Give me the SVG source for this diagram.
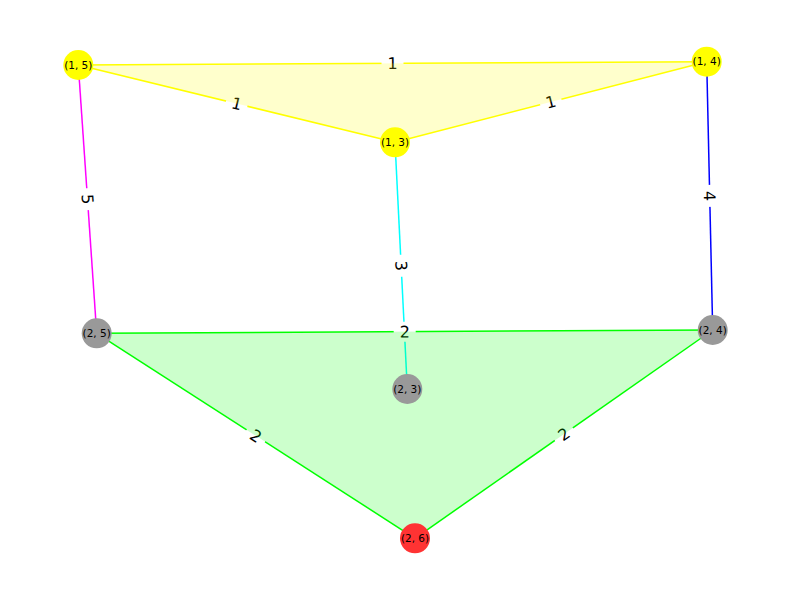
<svg xmlns="http://www.w3.org/2000/svg" width="792" height="599" viewBox="0 0 792 599">
<style>
.e{fill:none;stroke-width:1.5}
.n{stroke:none}
.nl{font-family:"DejaVu Sans",sans-serif;font-size:10.5px;text-anchor:middle;fill:#000}
.el{font-family:"DejaVu Sans",sans-serif;font-size:16px;text-anchor:middle;fill:#000}
.bx{fill:#fff;stroke:none}
</style>
<rect width="792" height="599" fill="#fff"/>
<g id="connectors">
<line class="e" x1="78.3" y1="65" x2="706.7" y2="61.7" stroke="#ffff00"/>
<line class="e" x1="78.3" y1="65" x2="395" y2="142.3" stroke="#ffff00"/>
<line class="e" x1="706.7" y1="61.7" x2="395" y2="142.3" stroke="#ffff00"/>
<line class="e" x1="78.3" y1="65" x2="96.7" y2="333.3" stroke="#ff00ff"/>
<line class="e" x1="706.7" y1="61.7" x2="712.7" y2="330" stroke="#0000ff"/>
<line class="e" x1="395" y1="142.3" x2="407.3" y2="389" stroke="#00ffff"/>
<line class="e" x1="96.7" y1="333.3" x2="712.7" y2="330" stroke="#00ff00"/>
<line class="e" x1="96.7" y1="333.3" x2="415" y2="538.3" stroke="#00ff00"/>
<line class="e" x1="712.7" y1="330" x2="415" y2="538.3" stroke="#00ff00"/>
</g>
<g id="edge-labels">
<g transform="translate(392.5,63.3) rotate(-0.3)"><rect class="bx" x="-11" y="-10" width="22" height="20" rx="4"/><text class="el" dy="0.36em">1</text></g>
<g transform="translate(236.7,103.6) rotate(13.7)"><rect class="bx" x="-11" y="-10" width="22" height="20" rx="4"/><text class="el" dy="0.36em">1</text></g>
<g transform="translate(550.8,102) rotate(-14.5)"><rect class="bx" x="-11" y="-10" width="22" height="20" rx="4"/><text class="el" dy="0.36em">1</text></g>
<g transform="translate(87.5,199.2) rotate(86.1)"><rect class="bx" x="-11" y="-10" width="22" height="20" rx="4"/><text class="el" dy="0.36em">5</text></g>
<g transform="translate(709.7,195.9) rotate(88.7)"><rect class="bx" x="-11" y="-10" width="22" height="20" rx="4"/><text class="el" dy="0.36em">4</text></g>
<g transform="translate(401.2,265.7) rotate(87.1)"><rect class="bx" x="-11" y="-10" width="22" height="20" rx="4"/><text class="el" dy="0.36em">3</text></g>
<g transform="translate(404.7,331.7) rotate(-0.3)"><rect class="bx" x="-11" y="-10" width="22" height="20" rx="4"/><text class="el" dy="0.36em">2</text></g>
<g transform="translate(255.8,435.8) rotate(32.8)"><rect class="bx" x="-11" y="-10" width="22" height="20" rx="4"/><text class="el" dy="0.36em">2</text></g>
<g transform="translate(563.8,434.2) rotate(-35)"><rect class="bx" x="-11" y="-10" width="22" height="20" rx="4"/><text class="el" dy="0.36em">2</text></g>
</g>
<g id="areas">
<polygon points="78.3,65 706.7,61.7 395,142.3" fill="#ffff00" fill-opacity="0.2"/>
<polygon points="96.7,333.3 712.7,330 415,538.3" fill="#00ff00" fill-opacity="0.2"/>
</g>
<g id="n15"><circle class="n" cx="78.3" cy="65" r="15" fill="#ffff00"/><text class="nl" x="78.3" y="65" dy="0.36em">(1, 5)</text></g>
<g id="n14"><circle class="n" cx="706.7" cy="61.7" r="15" fill="#ffff00"/><text class="nl" x="706.7" y="61.7" dy="0.36em">(1, 4)</text></g>
<g id="n13"><circle class="n" cx="395" cy="142.3" r="15" fill="#ffff00"/><text class="nl" x="395" y="142.3" dy="0.36em">(1, 3)</text></g>
<g id="n25"><circle class="n" cx="96.7" cy="333.3" r="15" fill="#999999"/><text class="nl" x="96.7" y="333.3" dy="0.36em">(2, 5)</text></g>
<g id="n24"><circle class="n" cx="712.7" cy="330" r="15" fill="#999999"/><text class="nl" x="712.7" y="330" dy="0.36em">(2, 4)</text></g>
<g id="n23"><circle class="n" cx="407.3" cy="389" r="15" fill="#999999"/><text class="nl" x="407.3" y="389" dy="0.36em">(2, 3)</text></g>
<g id="n26"><circle class="n" cx="415" cy="538.3" r="15" fill="#ff3333"/><text class="nl" x="415" y="538.3" dy="0.36em">(2, 6)</text></g>
</svg>
